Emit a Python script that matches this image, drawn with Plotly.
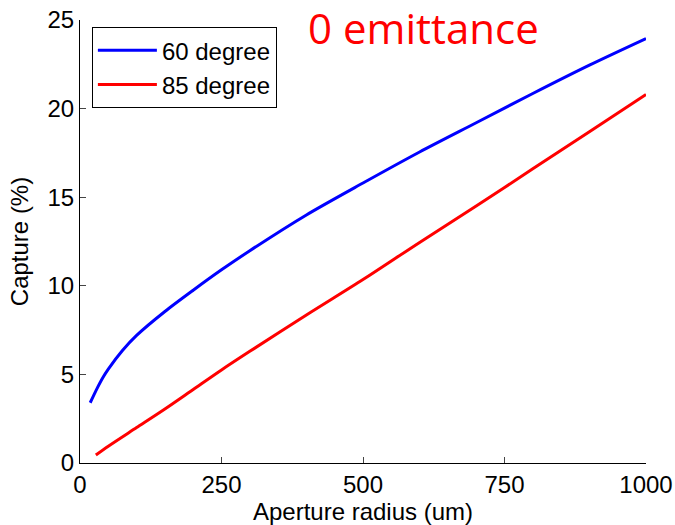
import plotly.graph_objects as go

# Aperture radius (um) and capture fraction (%) for each beam angle
radius_60 = [18, 30, 40, 50, 75, 100, 150, 200, 250, 300, 400, 500, 600, 700, 800, 900, 1000]
capture_60 = [3.4, 4.2, 4.8, 5.3, 6.35, 7.2, 8.55, 9.75, 10.9, 11.98, 14.0, 15.8, 17.55, 19.2, 20.85, 22.45, 23.95]

radius_85 = [28, 50, 100, 150, 200, 250, 300, 400, 500, 600, 700, 800, 900, 1000]
capture_85 = [0.45, 0.95, 2.0, 3.05, 4.15, 5.25, 6.3, 8.35, 10.35, 12.45, 14.5, 16.6, 18.7, 20.8]

x_ticks = [0, 250, 500, 750, 1000]
y_ticks = [0, 5, 10, 15, 20, 25]

axis_font = dict(family="Liberation Sans, Arial, sans-serif", size=24, color="black")

fig = go.Figure()
fig.add_trace(go.Scatter(x=radius_60, y=capture_60, mode="lines", name="60 degree",
                         line=dict(color="#0000ff", width=3, shape="spline", smoothing=0.8)))
fig.add_trace(go.Scatter(x=radius_85, y=capture_85, mode="lines", name="85 degree",
                         line=dict(color="#ff0000", width=3, shape="spline", smoothing=0.8)))

fig.update_layout(
    width=675, height=525,
    margin=dict(l=80, r=29, t=20, b=62),
    paper_bgcolor="white", plot_bgcolor="white",
    font=axis_font,
    showlegend=True,
    legend=dict(x=0.021, y=0.984, xanchor="left", yanchor="top",
                bgcolor="white", bordercolor="black", borderwidth=1,
                font=axis_font, itemwidth=59, tracegroupgap=0),
    annotations=[dict(text="0 emittance", xref="paper", yref="paper",
                      x=0.607, y=0.982, xanchor="center", yanchor="middle",
                      showarrow=False,
                      font=dict(family="Open Sans, sans-serif", size=42, color="#ff0000"))],
)
fig.update_xaxes(range=[0, 1000], tickvals=x_ticks, ticks="inside", ticklen=6,
                 showline=True, linecolor="black", linewidth=1, showgrid=False,
                 zeroline=False, tickfont=axis_font, automargin=False,
                 title=dict(text="Aperture radius (um)", font=axis_font, standoff=0))
fig.update_yaxes(range=[0, 25], tickvals=y_ticks, ticks="inside", ticklen=6,
                 showline=True, linecolor="black", linewidth=1, showgrid=False,
                 zeroline=False, tickfont=axis_font, automargin=False,
                 title=dict(text="Capture (%)", font=axis_font, standoff=12))

fig.write_html("out.html")
